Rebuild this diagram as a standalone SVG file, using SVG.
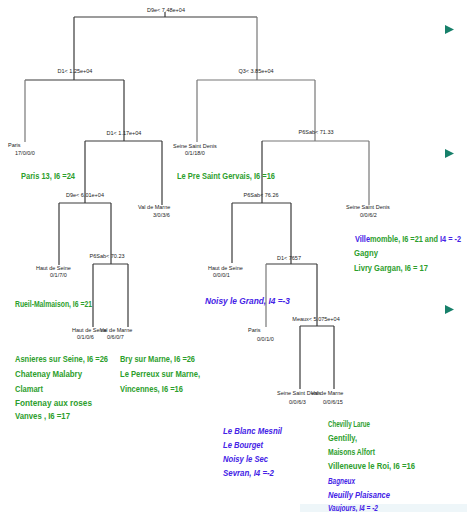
<svg xmlns="http://www.w3.org/2000/svg" width="467" height="512" viewBox="0 0 467 512">
<style>
.ln{fill:none;stroke:#3a3a3a;stroke-width:1.2}
.lg{fill:none;stroke:#777;stroke-width:1.2}
.t{font-family:"Liberation Sans",Arial,sans-serif;font-size:5.5px;fill:#222}
.g{font-family:"Liberation Sans",Arial,sans-serif;font-size:9.5px;font-weight:bold;fill:#2c9e2c}
.b{font-family:"Liberation Sans",Arial,sans-serif;font-size:9.5px;font-weight:bold;font-style:italic;fill:#4422e6}
.bt{fill:#4422e6}
.ar{fill:#17806a}
</style>
<rect width="467" height="512" fill="#ffffff"/>
<rect x="300" y="504" width="167" height="8" fill="#eef6f9"/>
<g id="connectors">
<path class="ln" d="M165,12V17M74,17H257M74,17V80M25,80H124M124,80V141M85,141H162M162,141V205M85,141V203M59,203H111M59,203V265M111,203V264M93,264H128M93,264V327M128,264V327"/>
<path class="lg" d="M25,80V142"/>
<path class="lg" d="M257,17V80M197,80H315M197,80V142M315,80V141M262,141H369M369,141V205"/>
<path class="ln" d="M262,141V203M232,203H291M232,203V263M291,203V264M266,264H317M317,264V326M300,326H334M300,326V389M334,326V389"/>
<path class="lg" d="M266,264V327"/>
</g>
<g id="n_root"><text class="t" x="166" y="12" text-anchor="middle">D9e&lt; 7.48e+04</text></g>
<g id="n_d1a"><text class="t" x="75" y="73" text-anchor="middle">D1&lt; 1.25e+04</text></g>
<g id="n_q3"><text class="t" x="256" y="73" text-anchor="middle">Q3&lt; 3.85e+04</text></g>
<g id="n_d1b"><text class="t" x="124" y="135" text-anchor="middle">D1&lt; 1.17e+04</text></g>
<g id="n_d9e"><text class="t" x="85" y="197" text-anchor="middle">D9e&lt; 6.01e+04</text></g>
<g id="n_p6a"><text class="t" x="107" y="258" text-anchor="middle">P6Sab&lt; 70.23</text></g>
<g id="n_p6b"><text class="t" x="316" y="134" text-anchor="middle">P6Sab&lt; 71.33</text></g>
<g id="n_p6c"><text class="t" x="261" y="197" text-anchor="middle">P6Sab&lt; 76.26</text></g>
<g id="n_d1c"><text class="t" x="289" y="260" text-anchor="middle">D1&lt; 7657</text></g>
<g id="n_meaux"><text class="t" x="316" y="321" text-anchor="middle">Meaux&lt; 5.075e+04</text></g>
<g id="l_paris1"><text class="t" x="8" y="147">Paris</text><text class="t" x="15" y="155">17/0/0/0</text></g>
<g id="l_vdm1"><text class="t" x="138" y="209">Val de Marne</text><text class="t" x="153" y="217">3/0/3/6</text></g>
<g id="l_hds1"><text class="t" x="36" y="270">Haut de Seine</text><text class="t" x="50" y="277">0/1/7/0</text></g>
<g id="l_hds2"><text class="t" x="72" y="332">Haut de Seine</text><text class="t" x="77" y="339">0/1/0/6</text></g>
<g id="l_vdm2"><text class="t" x="100" y="332">Val de Marne</text><text class="t" x="107" y="339">0/6/0/7</text></g>
<g id="l_ssd1"><text class="t" x="173" y="148">Seine Saint Denis</text><text class="t" x="185" y="155">0/1/18/0</text></g>
<g id="l_ssd2"><text class="t" x="346" y="209">Seine Saint Denis</text><text class="t" x="360" y="217">0/0/6/2</text></g>
<g id="l_hds3"><text class="t" x="208" y="270">Haut de Seine</text><text class="t" x="213" y="277">0/0/0/1</text></g>
<g id="l_paris2"><text class="t" x="248" y="332">Paris</text><text class="t" x="257" y="341">0/0/1/0</text></g>
<g id="l_ssd3"><text class="t" x="277" y="395">Seine Saint Denis</text><text class="t" x="289" y="404">0/0/6/3</text></g>
<g id="l_vdm3"><text class="t" x="311" y="395">Val de Marne</text><text class="t" x="323" y="404">0/0/6/15</text></g>
<g id="annotations">
<text class="g" x="21" y="178.5" textLength="54" lengthAdjust="spacingAndGlyphs">Paris 13, I6 =24</text>
<text class="g" x="177" y="178.5" textLength="98" lengthAdjust="spacingAndGlyphs">Le Pre Saint Gervais, I6 =16</text>
<text class="g" x="355" y="241.5" textLength="106" lengthAdjust="spacingAndGlyphs"><tspan class="bt">Ville</tspan>momble, I6 =21 and <tspan class="bt">I4 = -2</tspan></text>
<text class="g" x="354" y="256" textLength="24" lengthAdjust="spacingAndGlyphs">Gagny</text>
<text class="g" x="354" y="270.5" textLength="74" lengthAdjust="spacingAndGlyphs">Livry Gargan, I6 = 17</text>
<text class="b" x="205" y="303.5" textLength="85" lengthAdjust="spacingAndGlyphs">Noisy le Grand, I4 =-3</text>
<text class="g" x="15" y="306.5" textLength="77" lengthAdjust="spacingAndGlyphs">Rueil-Malmaison, I6 =21</text>
<text class="g" x="15" y="361.5" textLength="93" lengthAdjust="spacingAndGlyphs">Asnieres sur Seine, I6 =26</text>
<text class="g" x="15" y="377" textLength="67" lengthAdjust="spacingAndGlyphs">Chatenay Malabry</text>
<text class="g" x="15" y="391.5" textLength="28" lengthAdjust="spacingAndGlyphs">Clamart</text>
<text class="g" x="15" y="405.5" textLength="77" lengthAdjust="spacingAndGlyphs">Fontenay aux  roses</text>
<text class="g" x="15" y="418.5" textLength="55" lengthAdjust="spacingAndGlyphs">Vanves , I6 =17</text>
<text class="g" x="120" y="361.5" textLength="75" lengthAdjust="spacingAndGlyphs">Bry sur Marne, I6 =26</text>
<text class="g" x="120" y="377" textLength="80" lengthAdjust="spacingAndGlyphs">Le Perreux sur Marne,</text>
<text class="g" x="120" y="391.5" textLength="63" lengthAdjust="spacingAndGlyphs">Vincennes, I6 =16</text>
<text class="b" x="223" y="433.5" textLength="59" lengthAdjust="spacingAndGlyphs">Le Blanc Mesnil</text>
<text class="b" x="223" y="447.5" textLength="40" lengthAdjust="spacingAndGlyphs">Le Bourget</text>
<text class="b" x="223" y="461.5" textLength="45" lengthAdjust="spacingAndGlyphs">Noisy le Sec</text>
<text class="b" x="223" y="475.5" textLength="51" lengthAdjust="spacingAndGlyphs">Sevran, I4 =-2</text>
<text class="g" x="328" y="426.5" textLength="42" lengthAdjust="spacingAndGlyphs">Chevilly Larue</text>
<text class="g" x="328" y="440.5" textLength="29" lengthAdjust="spacingAndGlyphs">Gentilly,</text>
<text class="g" x="328" y="454.5" textLength="47" lengthAdjust="spacingAndGlyphs">Maisons Alfort</text>
<text class="g" x="328" y="468.5" textLength="87" lengthAdjust="spacingAndGlyphs">Villeneuve le Roi, I6 =16</text>
<text class="b" x="328" y="483.5" textLength="27" lengthAdjust="spacingAndGlyphs">Bagneux</text>
<text class="b" x="328" y="497.5" textLength="62" lengthAdjust="spacingAndGlyphs">Neuilly Plaisance</text>
<text class="b" x="328" y="511" textLength="50" lengthAdjust="spacingAndGlyphs">Vaujours, I4 = -2</text>
</g>
<g id="bullets">
<path class="ar" d="M445,25L454,29.5L445,34Z"/>
<path class="ar" d="M445,149L454,153.5L445,158Z"/>
<path class="ar" d="M445,305L454,309.5L445,314Z"/>
</g>
</svg>
